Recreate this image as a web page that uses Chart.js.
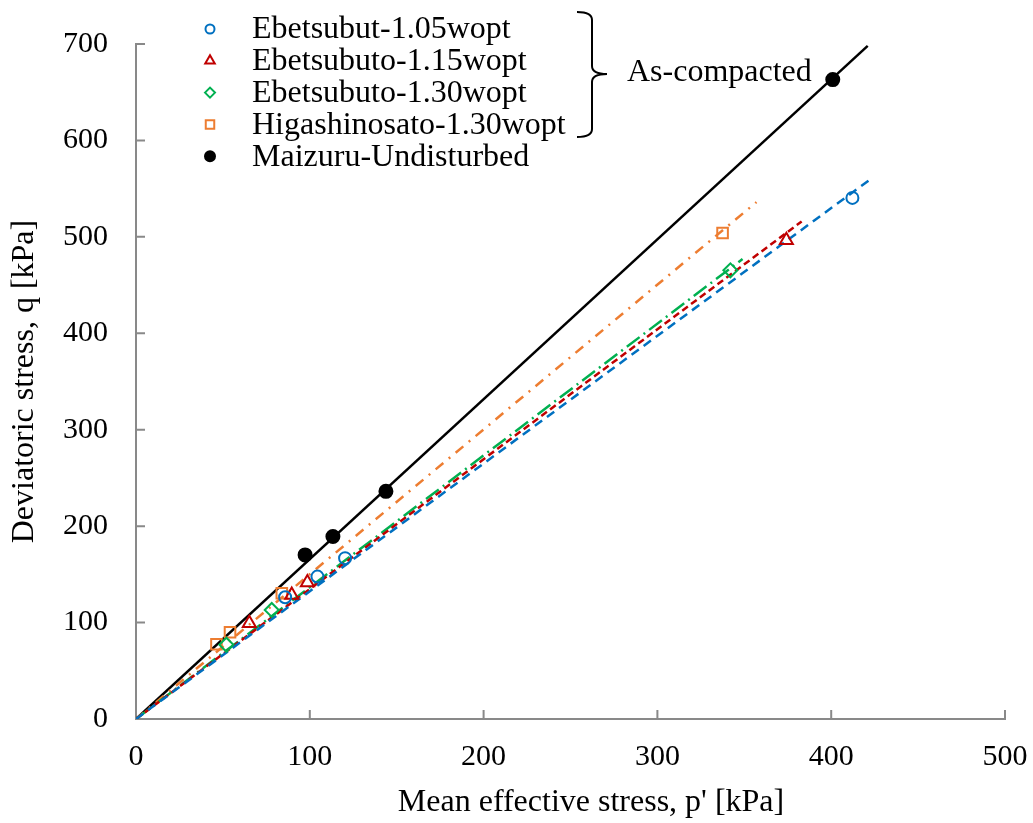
<!DOCTYPE html>
<html>
<head>
<meta charset="utf-8">
<script src="https://cdn.jsdelivr.net/npm/chart.js@4.4.1/dist/chart.umd.min.js"></script>
<style>
  body { margin: 0; background: #fff; }
  canvas { display: block; }
</style>
</head>
<body>
<canvas id="myChart" width="1033" height="823"></canvas>
<script>
// measured points, p' (kPa) and q (kPa)
const eb105P = [85.8, 104.4, 120.3, 412.2];
const eb105Q = [126.3, 147.7, 166.8, 540.4];
const eb115P = [65.2, 89.6, 98.6, 374.2];
const eb115Q = [99.3, 128.7, 141.5, 496.4];
const eb130P = [52.0, 78.1, 342.0];
const eb130Q = [77.0, 113.1, 465.3];
const higaP = [46.3, 54.1, 83.9, 337.5];
const higaQ = [77.5, 90.0, 130.4, 504.0];
const maizP = [97.3, 113.3, 143.8, 400.9];
const maizQ = [170.2, 189.3, 236.1, 663.1];

// trend lines from origin to end point
const fitStartP = 0, fitStartQ = 0;
const fitEndP = { eb105: 422, eb115: 383, eb130: 349, higa: 357, maiz: 421 };
const fitEndQ = { eb105: 559, eb115: 516, eb130: 477, higa: 536, maiz: 698 };

const labels = ["Ebetsubut-1.05wopt", "Ebetsubuto-1.15wopt", "Ebetsubuto-1.30wopt", "Higashinosato-1.30wopt", "Maizuru-Undisturbed"];
const xTicks = [0, 100, 200, 300, 400, 500];
const yTicks = [0, 100, 200, 300, 400, 500, 600, 700];

const BLUE = "#0070C0", RED = "#C00000", GREEN = "#00B050", ORANGE = "#ED7D31", BLACK = "#000000";
const FONT = "'Liberation Serif', 'Times New Roman', serif";
const AXIS = "#898989";

const pts = (ps, qs) => ps.map((p, i) => ({ x: p, y: qs[i] }));
const fit = (k) => [{ x: fitStartP, y: fitStartQ }, { x: fitEndP[k], y: fitEndQ[k] }];

const lineSet = (k, color, dash, w = 2.5) => ({
  data: fit(k), showLine: true, borderColor: color, borderWidth: w, borderDash: dash,
  pointRadius: 0, fill: false, order: 2
});
const markSet = (label, data, color, style, r) => ({
  label: label, data: data, showLine: false, borderColor: color,
  backgroundColor: style === "circle" && color === BLACK ? BLACK : "rgba(0,0,0,0)",
  pointStyle: style, pointRadius: r, pointBorderWidth: 2, order: 1
});

const markers = [
  markSet(labels[0], pts(eb105P, eb105Q), BLUE, "circle", 6),
  markSet(labels[1], pts(eb115P, eb115Q), RED, "triangle", 7.5),
  markSet(labels[2], pts(eb130P, eb130Q), GREEN, "rectRot", 7),
  markSet(labels[3], pts(higaP, higaQ), ORANGE, "rect", 7.5),
  markSet(labels[4], pts(maizP, maizQ), BLACK, "circle", 6.5)
];
const lines = [
  lineSet("eb105", BLUE, [9, 6]),
  lineSet("eb115", RED, [7, 4]),
  lineSet("eb130", GREEN, [16, 5, 2, 5]),
  lineSet("higa", ORANGE, [10, 7, 2, 7]),
  lineSet("maiz", BLACK, [])
];

// inward tick marks
const innerTicks = {
  id: "innerTicks",
  beforeDatasetsDraw(chart) {
    const ctx = chart.ctx, xs = chart.scales.x, ys = chart.scales.y;
    ctx.save();
    ctx.strokeStyle = AXIS;
    ctx.lineWidth = 2;
    ctx.beginPath();
    xTicks.forEach((v) => {
      const px = xs.getPixelForValue(v);
      ctx.moveTo(px, ys.bottom);
      ctx.lineTo(px, ys.bottom - 9);
    });
    yTicks.forEach((v) => {
      const py = ys.getPixelForValue(v);
      ctx.moveTo(xs.left, py);
      ctx.lineTo(xs.left + 9, py);
    });
    ctx.stroke();
    ctx.restore();
  }
};

// legend, brace and x title
const extras = {
  id: "extras",
  afterDraw(chart) {
    const ctx = chart.ctx;
    ctx.save();
    ctx.font = "32px " + FONT;
    ctx.fillStyle = "#000";
    ctx.textBaseline = "middle";
    ctx.textAlign = "left";
    const legR = [4.5, 5.5, 5, 6, 5];
    markers.forEach((ds, i) => {
      const y = 30 + i * 31.8;
      ctx.strokeStyle = ds.borderColor;
      ctx.fillStyle = ds.backgroundColor;
      ctx.lineWidth = 2;
      Chart.helpers.drawPoint(ctx, { pointStyle: ds.pointStyle, radius: legR[i], rotation: 0, borderWidth: 2 }, 210, y - 1);
      ctx.fillStyle = "#000";
      ctx.fillText(ds.label, 252, y);
    });

    // brace
    ctx.strokeStyle = "#000";
    ctx.lineWidth = 2;
    ctx.beginPath();
    ctx.moveTo(577, 12);
    ctx.quadraticCurveTo(592, 12, 592, 20);
    ctx.lineTo(592, 66);
    ctx.quadraticCurveTo(592, 74, 607, 74);
    ctx.quadraticCurveTo(592, 74, 592, 82);
    ctx.lineTo(592, 129);
    ctx.quadraticCurveTo(592, 137, 577, 137);
    ctx.stroke();
    ctx.fillText("As-compacted", 627, 73);

    ctx.textAlign = "center";
    ctx.fillText("Mean effective stress, p' [kPa]", 591, 803);
    ctx.restore();
  }
};

new Chart(document.getElementById("myChart"), {
  type: "scatter",
  data: { datasets: [...lines, ...markers] },
  options: {
    responsive: false,
    animation: false,
    devicePixelRatio: 1,
    layout: { padding: { top: 44, right: 28, left: 0, bottom: 0 } },
    plugins: { legend: { display: false }, tooltip: { enabled: false } },
    scales: {
      x: {
        type: "linear", min: 0, max: 500,
        afterBuildTicks: (s) => { s.ticks = xTicks.map((v) => ({ value: v })); },
        grid: { display: false, drawTicks: false },
        border: { display: true, color: AXIS, width: 2 },
        ticks: { color: "#000", padding: 20, font: { size: 30, family: FONT } },
        afterFit: (s) => { s.height = 104; s.paddingLeft = 0; s.paddingRight = 0; }
      },
      y: {
        type: "linear", min: 0, max: 700,
        afterBuildTicks: (s) => { s.ticks = yTicks.map((v) => ({ value: v })); },
        grid: { display: false, drawTicks: false },
        border: { display: true, color: AXIS, width: 2 },
        ticks: { color: "#000", padding: 28, font: { size: 30, family: FONT } },
        title: {
          display: true, text: "Deviatoric stress, q [kPa]", color: "#000",
          font: { size: 32, family: FONT }, padding: { top: 5, bottom: 0 }
        },
        afterFit: (s) => { s.width = 136; s.paddingTop = 0; s.paddingBottom = 0; }
      }
    }
  },
  plugins: [innerTicks, extras]
});
</script>
</body>
</html>
